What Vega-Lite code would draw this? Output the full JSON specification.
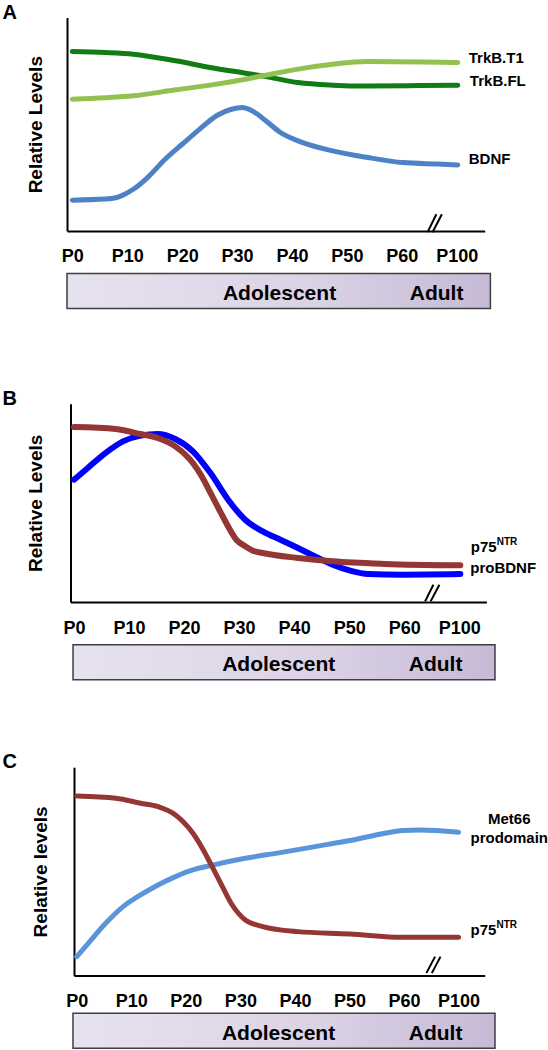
{
  "$schema": "https://vega.github.io/schema/vega-lite/v6.json",
  "background": "white",
  "padding": {"left": 2, "top": 2.5, "right": 0, "bottom": 0},
  "config": {"view": {"stroke": null}, "font": "Liberation Sans"},
  "datasets": {
    "curvesA": [
      {"series": "TrkB.FL", "age": 0, "level": 84.1}, {"series": "TrkB.FL", "age": 6, "level": 83.6}, {"series": "TrkB.FL", "age": 11.1, "level": 82.8}, {"series": "TrkB.FL", "age": 18.8, "level": 79.7}, {"series": "TrkB.FL", "age": 25.1, "level": 76.6}, {"series": "TrkB.FL", "age": 31.5, "level": 73.9}, {"series": "TrkB.FL", "age": 35.3, "level": 72.3}, {"series": "TrkB.FL", "age": 41.1, "level": 69.5}, {"series": "TrkB.FL", "age": 47.4, "level": 68.3}, {"series": "TrkB.FL", "age": 53.8, "level": 67.9}, {"series": "TrkB.FL", "age": 63.3, "level": 68.1}, {"series": "TrkB.FL", "age": 70.2, "level": 68.3},
      {"series": "TrkB.T1", "age": 0, "level": 61.7}, {"series": "TrkB.T1", "age": 6, "level": 62.4}, {"series": "TrkB.T1", "age": 11.1, "level": 63.3}, {"series": "TrkB.T1", "age": 18.8, "level": 66.1}, {"series": "TrkB.T1", "age": 25.1, "level": 68.3}, {"series": "TrkB.T1", "age": 31.5, "level": 71.1}, {"series": "TrkB.T1", "age": 35.3, "level": 73.0}, {"series": "TrkB.T1", "age": 41.1, "level": 75.8}, {"series": "TrkB.T1", "age": 47.4, "level": 78.1}, {"series": "TrkB.T1", "age": 53.8, "level": 79.4}, {"series": "TrkB.T1", "age": 63.3, "level": 79.2}, {"series": "TrkB.T1", "age": 70.2, "level": 78.9},
      {"series": "BDNF", "age": 0, "level": 14.4}, {"series": "BDNF", "age": 6, "level": 14.9}, {"series": "BDNF", "age": 8.6, "level": 16.1}, {"series": "BDNF", "age": 11.1, "level": 19.5}, {"series": "BDNF", "age": 13.7, "level": 25.0}, {"series": "BDNF", "age": 16.9, "level": 33.6}, {"series": "BDNF", "age": 20, "level": 40.6}, {"series": "BDNF", "age": 23.2, "level": 47.7}, {"series": "BDNF", "age": 26.4, "level": 54.2}, {"series": "BDNF", "age": 29, "level": 57.0}, {"series": "BDNF", "age": 30.9, "level": 57.8}, {"series": "BDNF", "age": 32.8, "level": 56.2}, {"series": "BDNF", "age": 35.3, "level": 51.5}, {"series": "BDNF", "age": 37.9, "level": 46.1}, {"series": "BDNF", "age": 41.1, "level": 42.2}, {"series": "BDNF", "age": 47.4, "level": 37.5}, {"series": "BDNF", "age": 53.8, "level": 34.4}, {"series": "BDNF", "age": 60.2, "level": 32.0}, {"series": "BDNF", "age": 66.5, "level": 31.3}, {"series": "BDNF", "age": 70.2, "level": 30.9}
    ],
    "curvesB": [
      {"series": "proBDNF", "age": 0, "level": 61.7}, {"series": "proBDNF", "age": 2.5, "level": 67.6}, {"series": "proBDNF", "age": 5.7, "level": 75.1}, {"series": "proBDNF", "age": 8.9, "level": 81.0}, {"series": "proBDNF", "age": 12.1, "level": 83.9}, {"series": "proBDNF", "age": 15.2, "level": 84.7}, {"series": "proBDNF", "age": 18.4, "level": 82.2}, {"series": "proBDNF", "age": 21.6, "level": 76.0}, {"series": "proBDNF", "age": 24.8, "level": 65.0}, {"series": "proBDNF", "age": 28, "level": 51.6}, {"series": "proBDNF", "age": 31.1, "level": 41.5}, {"series": "proBDNF", "age": 34.3, "level": 35.6}, {"series": "proBDNF", "age": 37.5, "level": 31.4}, {"series": "proBDNF", "age": 40.7, "level": 27.2}, {"series": "proBDNF", "age": 43.8, "level": 23.0}, {"series": "proBDNF", "age": 47, "level": 18.8}, {"series": "proBDNF", "age": 50.2, "level": 15.8}, {"series": "proBDNF", "age": 53.4, "level": 14.1}, {"series": "proBDNF", "age": 59.7, "level": 13.8}, {"series": "proBDNF", "age": 70.2, "level": 14.1},
      {"series": "p75NTR", "age": 0, "level": 88.2}, {"series": "p75NTR", "age": 7.6, "level": 87.2}, {"series": "p75NTR", "age": 12.1, "level": 84.7}, {"series": "p75NTR", "age": 15.2, "level": 82.7}, {"series": "p75NTR", "age": 18.4, "level": 78.5}, {"series": "p75NTR", "age": 21.6, "level": 70.1}, {"series": "p75NTR", "age": 23.2, "level": 63.4}, {"series": "p75NTR", "age": 24.8, "level": 55.0}, {"series": "p75NTR", "age": 26.4, "level": 46.5}, {"series": "p75NTR", "age": 28, "level": 38.1}, {"series": "p75NTR", "age": 29.5, "level": 31.4}, {"series": "p75NTR", "age": 31.1, "level": 28.1}, {"series": "p75NTR", "age": 32.4, "level": 26.0}, {"series": "p75NTR", "age": 34.3, "level": 24.7}, {"series": "p75NTR", "age": 40.7, "level": 22.2}, {"series": "p75NTR", "age": 47, "level": 20.5}, {"series": "p75NTR", "age": 56.5, "level": 19.2}, {"series": "p75NTR", "age": 70.2, "level": 18.5}
    ],
    "curvesC": [
      {"series": "Met66 prodomain", "age": 0, "level": 9.1}, {"series": "Met66 prodomain", "age": 2.1, "level": 15.5}, {"series": "Met66 prodomain", "age": 5.3, "level": 25.1}, {"series": "Met66 prodomain", "age": 8.5, "level": 33.1}, {"series": "Met66 prodomain", "age": 11.7, "level": 38.7}, {"series": "Met66 prodomain", "age": 14.9, "level": 43.5}, {"series": "Met66 prodomain", "age": 18.1, "level": 47.5}, {"series": "Met66 prodomain", "age": 21.3, "level": 50.7}, {"series": "Met66 prodomain", "age": 24.5, "level": 52.8}, {"series": "Met66 prodomain", "age": 30.9, "level": 56.3}, {"series": "Met66 prodomain", "age": 37.3, "level": 59.0}, {"series": "Met66 prodomain", "age": 43.7, "level": 61.9}, {"series": "Met66 prodomain", "age": 50.1, "level": 64.8}, {"series": "Met66 prodomain", "age": 56.5, "level": 68.3}, {"series": "Met66 prodomain", "age": 59.7, "level": 69.6}, {"series": "Met66 prodomain", "age": 62.9, "level": 69.9}, {"series": "Met66 prodomain", "age": 70, "level": 68.8},
      {"series": "p75NTR", "age": 0, "level": 86.2}, {"series": "p75NTR", "age": 7.2, "level": 85.1}, {"series": "p75NTR", "age": 11.7, "level": 82.7}, {"series": "p75NTR", "age": 14.9, "level": 81.1}, {"series": "p75NTR", "age": 18.1, "level": 77.1}, {"series": "p75NTR", "age": 21.3, "level": 68.3}, {"series": "p75NTR", "age": 23.2, "level": 60.3}, {"series": "p75NTR", "age": 24.5, "level": 53.9}, {"series": "p75NTR", "age": 26.4, "level": 44.3}, {"series": "p75NTR", "age": 28.3, "level": 34.7}, {"series": "p75NTR", "age": 30.9, "level": 26.7}, {"series": "p75NTR", "age": 34.1, "level": 23.5}, {"series": "p75NTR", "age": 40.5, "level": 21.1}, {"series": "p75NTR", "age": 50.1, "level": 20.0}, {"series": "p75NTR", "age": 59.7, "level": 18.4}, {"series": "p75NTR", "age": 70, "level": 18.4}
    ],
    "breaksA": [{"age": 64.7, "level": -0.6, "age2": 66.3, "level2": 7.8}, {"age": 65.6, "level": -0.6, "age2": 67.3, "level2": 7.8}],
    "breaksB": [{"age": 63.8, "level": 0.3, "age2": 65.3, "level2": 8.7}, {"age": 64.8, "level": 0.3, "age2": 66.4, "level2": 8.7}],
    "breaksC": [{"age": 64.1, "level": 1.2, "age2": 65.7, "level2": 9.1}, {"age": 65.1, "level": 1.2, "age2": 66.7, "level2": 9.1}],
    "labelsA": [{"label": "TrkB.T1", "sup": "", "age": 72.2, "level": 80.8}, {"label": "TrkB.FL", "sup": "", "age": 72.4, "level": 70.2}, {"label": "BDNF", "sup": "", "age": 72.2, "level": 33.9}],
    "labelsB": [{"label": "p75", "sup": "NTR", "age": 72.1, "level": 27.5}, {"label": "proBDNF", "sup": "", "age": 72.0, "level": 16.9}],
    "labelsC": [{"label": "Met66", "sup": "", "age": 75.4, "level": 75.0}, {"label": "prodomain", "sup": "", "age": 72.2, "level": 66.2}, {"label": "p75", "sup": "NTR", "age": 72.2, "level": 22.1}],
    "bandA": [{"start": -1.1, "end": 76.0}],
    "bandB": [{"start": -0.18, "end": 76.5}],
    "bandC": [{"start": -0.7, "end": 76.7}],
    "stagesA": [{"stage": "Adolescent", "age": 37.6}, {"stage": "Adult", "age": 66.2}],
    "stagesB": [{"stage": "Adolescent", "age": 37.2}, {"stage": "Adult", "age": 65.7}],
    "stagesC": [{"stage": "Adolescent", "age": 37.0}, {"stage": "Adult", "age": 65.8}]
  },
  "resolve": {"scale": {"color": "independent"}},
  "concat": [
    {
      "resolve": {"scale": {"color": "independent"}},
      "vconcat": [
        {
          "width": 417.7, "height": 213.4,
          "title": {"text": "A", "anchor": "start", "frame": "group", "fontSize": 20, "fontWeight": "bold", "color": "black", "dx": -64.4, "offset": -5.2},
          "encoding": {
            "x": {"field": "age", "type": "quantitative", "scale": {"domain": [-0.97, 75.1], "nice": false, "zero": false},
              "axis": {"values": [0, 10, 20, 30, 40, 50, 60, 70], "labelExpr": "datum.value == 70 ? 'P100' : 'P' + datum.value", "title": null, "grid": false, "ticks": false, "tickSize": 0, "domainColor": "black", "domainWidth": 2, "labelFontSize": 18, "labelFontWeight": "bold", "labelColor": "black", "labelPadding": 17, "labelFlush": false, "labelOverlap": false}},
            "y": {"field": "level", "type": "quantitative", "scale": {"domain": [0, 100], "nice": false, "zero": false},
              "axis": {"title": "Relative Levels", "titleFontSize": 19, "titleFontWeight": "bold", "titleColor": "black", "titlePadding": 22, "labels": false, "ticks": false, "tickSize": 0, "grid": false, "domainColor": "black", "domainWidth": 2}}
          },
          "layer": [
            {"data": {"name": "curvesA"}, "mark": {"type": "line", "interpolate": "monotone", "strokeWidth": 5, "strokeCap": "round", "strokeJoin": "round"},
              "encoding": {"color": {"field": "series", "type": "nominal", "scale": {"domain": ["TrkB.FL", "TrkB.T1", "BDNF"], "range": ["#0f7d14", "#92c152", "#4f81c7"]}, "legend": null}}},
            {"data": {"name": "breaksA"}, "mark": {"type": "rule", "strokeWidth": 2, "color": "black"}, "encoding": {"x2": {"field": "age2"}, "y2": {"field": "level2"}}},
            {"data": {"name": "labelsA"}, "mark": {"type": "text", "align": "left", "baseline": "middle", "fontSize": 15, "fontWeight": "bold", "color": "black"}, "encoding": {"text": {"field": "label"}}}
          ]
        },
        {
          "width": 423.4, "height": 35,
          "layer": [
            {"data": {"name": "bandA"}, "mark": {"type": "rect", "stroke": "#3f3f3f", "strokeWidth": 1.5, "fill": {"gradient": "linear", "x1": 0, "y1": 0, "x2": 1, "y2": 0, "stops": [{"offset": 0, "color": "#e7e2ef"}, {"offset": 0.55, "color": "#dcd4e6"}, {"offset": 1, "color": "#c6bad6"}]}},
              "encoding": {"x": {"field": "start", "type": "quantitative", "scale": {"domain": [-1.1, 76.0], "nice": false, "zero": false}, "axis": null}, "x2": {"field": "end"}}},
            {"data": {"name": "stagesA"}, "mark": {"type": "text", "fontSize": 21, "fontWeight": "bold", "color": "black", "baseline": "middle", "dy": 3},
              "encoding": {"x": {"field": "age", "type": "quantitative", "scale": {"domain": [-1.1, 76.0], "nice": false, "zero": false}, "axis": null}, "text": {"field": "stage"}}}
          ]
        }
      ],
      "spacing": 6
    },
    {
      "resolve": {"scale": {"color": "independent"}},
      "concat": [
        {
          "resolve": {"scale": {"color": "independent"}},
          "vconcat": [
            {
              "width": 419.4, "height": 198.3,
              "title": {"text": "B", "anchor": "start", "frame": "group", "fontSize": 20, "fontWeight": "bold", "color": "black", "dx": -64.4, "offset": -5.2},
              "encoding": {
                "x": {"field": "age", "type": "quantitative", "scale": {"domain": [-0.64, 74.94], "range": [3.5, 419.4], "nice": false, "zero": false},
                  "axis": {"values": [0, 10, 20, 30, 40, 50, 60, 70], "labelExpr": "datum.value == 70 ? 'P100' : 'P' + datum.value", "title": null, "grid": false, "ticks": false, "tickSize": 0, "domainColor": "black", "domainWidth": 2, "labelFontSize": 18, "labelFontWeight": "bold", "labelColor": "black", "labelPadding": 17, "labelFlush": false, "labelOverlap": false}},
                "y": {"field": "level", "type": "quantitative", "scale": {"domain": [0, 100], "nice": false, "zero": false},
                  "axis": {"offset": -3.5, "title": "Relative Levels", "titleFontSize": 19, "titleFontWeight": "bold", "titleColor": "black", "titlePadding": 25, "labels": false, "ticks": false, "tickSize": 0, "grid": false, "domainColor": "black", "domainWidth": 2}}
              },
              "layer": [
                {"data": {"name": "curvesB"}, "mark": {"type": "line", "interpolate": "monotone", "strokeWidth": 6, "strokeCap": "round", "strokeJoin": "round"},
                  "encoding": {"color": {"field": "series", "type": "nominal", "scale": {"domain": ["proBDNF", "p75NTR"], "range": ["#0000ff", "#943634"]}, "legend": null}}},
                {"data": {"name": "breaksB"}, "mark": {"type": "rule", "strokeWidth": 2, "color": "black"}, "encoding": {"x2": {"field": "age2"}, "y2": {"field": "level2"}}},
                {"data": {"name": "labelsB"}, "mark": {"type": "text", "align": "left", "baseline": "middle", "fontSize": 15, "fontWeight": "bold", "color": "black"}, "encoding": {"text": {"field": "label"}}},
                {"data": {"name": "labelsB"}, "mark": {"type": "text", "align": "left", "baseline": "middle", "fontSize": 10, "fontWeight": "bold", "color": "black", "dx": 26, "dy": -5}, "encoding": {"text": {"field": "sup"}}}
              ]
            },
            {
              "width": 428.0, "height": 35,
              "layer": [
                {"data": {"name": "bandB"}, "mark": {"type": "rect", "stroke": "#3f3f3f", "strokeWidth": 1.5, "fill": {"gradient": "linear", "x1": 0, "y1": 0, "x2": 1, "y2": 0, "stops": [{"offset": 0, "color": "#e7e2ef"}, {"offset": 0.55, "color": "#dcd4e6"}, {"offset": 1, "color": "#c6bad6"}]}},
                  "encoding": {"x": {"field": "start", "type": "quantitative", "scale": {"domain": [-1.276, 76.5], "nice": false, "zero": false}, "axis": null}, "x2": {"field": "end"}}},
                {"data": {"name": "stagesB"}, "mark": {"type": "text", "fontSize": 21, "fontWeight": "bold", "color": "black", "baseline": "middle", "dy": 3},
                  "encoding": {"x": {"field": "age", "type": "quantitative", "scale": {"domain": [-1.276, 76.5], "nice": false, "zero": false}, "axis": null}, "text": {"field": "stage"}}}
              ]
            }
          ],
          "spacing": 6
        },
        {
          "resolve": {"scale": {"color": "independent"}},
          "vconcat": [
            {
              "width": 417.7, "height": 208.4,
              "title": {"text": "C", "anchor": "start", "frame": "group", "fontSize": 20, "fontWeight": "bold", "color": "black", "dx": -64.4, "offset": -5.2},
              "encoding": {
                "x": {"field": "age", "type": "quantitative", "scale": {"domain": [-0.51, 74.8], "range": [7, 417.7], "nice": false, "zero": false},
                  "axis": {"values": [0, 10, 20, 30, 40, 50, 60, 70], "labelExpr": "datum.value == 70 ? 'P100' : 'P' + datum.value", "title": null, "grid": false, "ticks": false, "tickSize": 0, "domainColor": "black", "domainWidth": 2, "labelFontSize": 18, "labelFontWeight": "bold", "labelColor": "black", "labelPadding": 17, "labelFlush": false, "labelOverlap": false}},
                "y": {"field": "level", "type": "quantitative", "scale": {"domain": [0, 100], "nice": false, "zero": false},
                  "axis": {"offset": -7, "title": "Relative levels", "titleFontSize": 19, "titleFontWeight": "bold", "titleColor": "black", "titlePadding": 24, "labels": false, "ticks": false, "tickSize": 0, "grid": false, "domainColor": "black", "domainWidth": 2}}
              },
              "layer": [
                {"data": {"name": "curvesC"}, "mark": {"type": "line", "interpolate": "monotone", "strokeWidth": 5, "strokeCap": "round", "strokeJoin": "round"},
                  "encoding": {"color": {"field": "series", "type": "nominal", "scale": {"domain": ["Met66 prodomain", "p75NTR"], "range": ["#5a94db", "#943634"]}, "legend": null}}},
                {"data": {"name": "breaksC"}, "mark": {"type": "rule", "strokeWidth": 2, "color": "black"}, "encoding": {"x2": {"field": "age2"}, "y2": {"field": "level2"}}},
                {"data": {"name": "labelsC"}, "mark": {"type": "text", "align": "left", "baseline": "middle", "fontSize": 15, "fontWeight": "bold", "color": "black"}, "encoding": {"text": {"field": "label"}}},
                {"data": {"name": "labelsC"}, "mark": {"type": "text", "align": "left", "baseline": "middle", "fontSize": 10, "fontWeight": "bold", "color": "black", "dx": 26, "dy": -5}, "encoding": {"text": {"field": "sup"}}}
              ]
            },
            {
              "width": 428.0, "height": 35,
              "layer": [
                {"data": {"name": "bandC"}, "mark": {"type": "rect", "stroke": "#3f3f3f", "strokeWidth": 1.5, "fill": {"gradient": "linear", "x1": 0, "y1": 0, "x2": 1, "y2": 0, "stops": [{"offset": 0, "color": "#e7e2ef"}, {"offset": 0.55, "color": "#dcd4e6"}, {"offset": 1, "color": "#c6bad6"}]}},
                  "encoding": {"x": {"field": "start", "type": "quantitative", "scale": {"domain": [-1.797, 76.7], "nice": false, "zero": false}, "axis": null}, "x2": {"field": "end"}}},
                {"data": {"name": "stagesC"}, "mark": {"type": "text", "fontSize": 21, "fontWeight": "bold", "color": "black", "baseline": "middle", "dy": 3},
                  "encoding": {"x": {"field": "age", "type": "quantitative", "scale": {"domain": [-1.797, 76.7], "nice": false, "zero": false}, "axis": null}, "text": {"field": "stage"}}}
              ]
            }
          ],
          "spacing": 1
        }
      ],
      "columns": 1, "spacing": 71.5
    }
  ],
  "columns": 1, "spacing": 79.2
}
